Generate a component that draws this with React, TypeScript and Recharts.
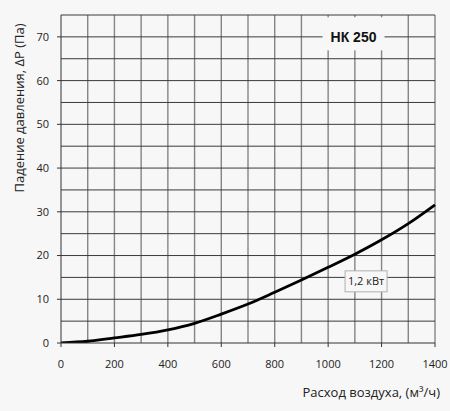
import React from "react";
import {
  ComposedChart,
  Line,
  XAxis,
  YAxis,
  ReferenceLine,
  ReferenceDot,
  Label,
} from "recharts";

const flow = [0, 100, 200, 300, 400, 500, 600, 700, 800, 900, 1000, 1100, 1200, 1300, 1400];
const pressure = [0, 0.4, 1.15, 1.95, 3.0, 4.5, 6.6, 8.9, 11.6, 14.4, 17.3, 20.3, 23.6, 27.3, 31.6];

const xTicks = [0, 200, 400, 600, 800, 1000, 1200, 1400];
const yTicks = [0, 10, 20, 30, 40, 50, 60, 70];
const xGrid = [100, 200, 300, 400, 500, 600, 700, 800, 900, 1000, 1100, 1200, 1300, 1400];
const yGrid = [5, 10, 15, 20, 25, 30, 35, 40, 45, 50, 55, 60, 65, 70, 75];

const title = "НК 250";
const seriesLabel = "1,2 кВт";
const xTitle = "Расход воздуха, (м³/ч)";
const yTitle = "Падение давления, ΔP (Па)";

const data = flow.map((f, i) => ({ flow: f, p: pressure[i] }));

const BG = "#f7f7f7";
const FONT = "'Open Sans', sans-serif";

const TitleBox = (props: any) => {
  const vb = props.viewBox || {};
  const cx = vb.x + (vb.width || 0) / 2;
  const cy = vb.y + (vb.height || 0) / 2;
  return (
    <g>
      <rect x={cx - 31} y={cy - 19.5} width={62} height={33} fill={BG} />
      <text
        x={cx}
        y={cy + 5}
        textAnchor="middle"
        fontFamily="'Liberation Sans', Arial, sans-serif"
        fontWeight="bold"
        fontSize={14}
        fill="#111"
      >
        {title}
      </text>
    </g>
  );
};

const SeriesBox = (props: any) => {
  const vb = props.viewBox || {};
  const cx = vb.x + (vb.width || 0) / 2;
  const cy = vb.y + (vb.height || 0) / 2;
  return (
    <g>
      <rect x={cx - 21} y={cy - 10.5} width={42} height={21} fill={BG} stroke="#b0b0b0" strokeWidth={1} />
      <text x={cx} y={cy + 4} textAnchor="middle" fontFamily={FONT} fontSize={11} fill="#222">
        {seriesLabel}
      </text>
    </g>
  );
};

const YTitle = (props: any) => {
  const vb = props.viewBox || {};
  const x = vb.x + 19;
  const y = vb.y + 93;
  return (
    <text
      x={x}
      y={y}
      transform={`rotate(-90 ${x} ${y})`}
      textAnchor="middle"
      dominantBaseline="central"
      fontFamily={FONT}
      fontSize={13}
      fill="#222"
    >
      {yTitle}
    </text>
  );
};

const XTitle = (props: any) => {
  const vb = props.viewBox || {};
  const x = vb.x + vb.width + 5;
  const y = vb.y + 54;
  return (
    <text x={x} y={y} textAnchor="end" fontFamily={FONT} fontSize={13} fill="#222">
      {xTitle}
    </text>
  );
};

export default function App() {
  return (
    <div style={{ position: "absolute", left: 0, top: 0, width: 450, height: 411, background: BG }}>
      <ComposedChart
        width={450}
        height={411}
        data={data}
        margin={{ top: 15, right: 15, bottom: 0, left: 0 }}
      >
        <XAxis
          dataKey="flow"
          type="number"
          domain={[0, 1400]}
          ticks={xTicks}
          height={68}
          tickSize={4}
          tickMargin={13}
          axisLine={{ stroke: "#333", strokeWidth: 1 }}
          tickLine={{ stroke: "#333" }}
          tick={{ fill: "#222", fontSize: 11, fontFamily: FONT }}
        >
          <Label content={XTitle} />
        </XAxis>
        <YAxis
          type="number"
          domain={[0, 75]}
          ticks={yTicks}
          width={61}
          tickSize={4}
          tickMargin={8}
          allowDataOverflow
          axisLine={{ stroke: "#333", strokeWidth: 1 }}
          tickLine={{ stroke: "#333" }}
          tick={{ fill: "#222", fontSize: 11, fontFamily: FONT }}
        >
          <Label content={YTitle} />
        </YAxis>
        {xGrid.map((v) => (
          <ReferenceLine key={"x" + v} x={v} stroke="#858585" strokeWidth={1.4} />
        ))}
        {yGrid.map((v) => (
          <ReferenceLine key={"y" + v} y={v} stroke="#3a3a3a" strokeWidth={1} />
        ))}
        <ReferenceDot x={1095} y={70} r={0} fill="none" stroke="none">
          <Label content={TitleBox} />
        </ReferenceDot>
        <Line
          type="monotone"
          dataKey="p"
          stroke="#000"
          strokeWidth={2.8}
          dot={false}
          isAnimationActive={false}
        />
        <ReferenceDot x={1142} y={14.1} r={0} fill="none" stroke="none">
          <Label content={SeriesBox} />
        </ReferenceDot>
      </ComposedChart>
    </div>
  );
}
